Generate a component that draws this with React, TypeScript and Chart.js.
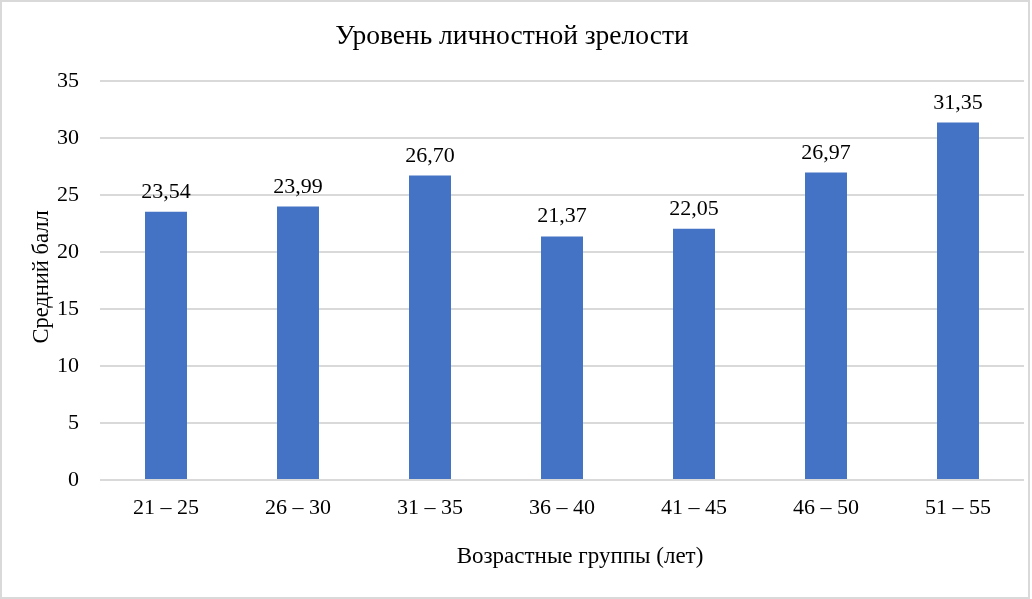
import React, { useEffect, useRef } from "react";
import { Chart, registerables } from "chart.js";

Chart.register(...registerables);

const categories = ["21 – 25", "26 – 30", "31 – 35", "36 – 40", "41 – 45", "46 – 50", "51 – 55"];
const values = [23.54, 23.99, 26.7, 21.37, 22.05, 26.97, 31.35];
const yMin = 0;
const yMax = 35;
const yStep = 5;
const chartTitle = "Уровень личностной зрелости";
const xTitle = "Возрастные группы (лет)";
const yTitle = "Средний балл";

const FONT = '"Liberation Serif", "Times New Roman", serif';
const BAR_COLOR = "#4472C4";
const GRID_COLOR = "#d9d9d9";
const TEXT_COLOR = "#000000";

const formatValue = (v: number) => v.toFixed(2).replace(".", ",");

const dataLabelsPlugin = {
  id: "dataLabels",
  afterDatasetsDraw(chart: any) {
    const ctx = chart.ctx;
    const meta = chart.getDatasetMeta(0);
    ctx.save();
    ctx.font = `22px ${FONT}`;
    ctx.fillStyle = TEXT_COLOR;
    ctx.textAlign = "center";
    ctx.textBaseline = "alphabetic";
    meta.data.forEach((bar: any, i: number) => {
      ctx.fillText(formatValue(values[i]), bar.x, bar.y - 14);
    });
    ctx.restore();
  },
};

const axisTitlesPlugin = {
  id: "axisTitles",
  afterDraw(chart: any) {
    const ctx = chart.ctx;
    ctx.save();
    ctx.fillStyle = TEXT_COLOR;
    ctx.textAlign = "center";
    ctx.textBaseline = "middle";
    ctx.font = `23px ${FONT}`;
    ctx.fillText(xTitle, 580, 557);
    ctx.font = `22.5px ${FONT}`;
    ctx.translate(42, 277);
    ctx.rotate(-Math.PI / 2);
    ctx.fillText(yTitle, 0, 0);
    ctx.restore();
  },
};

export default function App() {
  const canvasRef = useRef<HTMLCanvasElement | null>(null);

  useEffect(() => {
    if (!canvasRef.current) return;
    const chart = new Chart(canvasRef.current, {
      type: "bar",
      data: {
        labels: categories,
        datasets: [
          {
            data: values,
            backgroundColor: BAR_COLOR,
            borderWidth: 0,
            categoryPercentage: 1,
            barPercentage: 0.318,
          },
        ],
      },
      options: {
        responsive: false,
        animation: false,
        layout: { padding: { left: 0, right: 8, top: 0, bottom: 0 } },
        plugins: {
          legend: { display: false },
          tooltip: { enabled: false },
          title: {
            display: true,
            text: chartTitle,
            color: TEXT_COLOR,
            font: { family: FONT, size: 27.5, weight: "normal" },
            padding: { top: 20, bottom: 28 },
          },
        },
        scales: {
          x: {
            grid: { display: false, drawTicks: false },
            border: { display: false },
            ticks: {
              color: TEXT_COLOR,
              font: { family: FONT, size: 22 },
              padding: 15,
              maxRotation: 0,
              autoSkip: false,
            },
            afterFit(scale: any) {
              scale.height = 119;
            },
          },
          y: {
            min: yMin,
            max: yMax,
            grid: { color: GRID_COLOR, lineWidth: 2, drawTicks: false },
            border: { display: false },
            ticks: {
              stepSize: yStep,
              color: TEXT_COLOR,
              font: { family: FONT, size: 22 },
              padding: 21,
            },
            afterFit(scale: any) {
              scale.width = 100;
            },
          },
        },
      },
      plugins: [dataLabelsPlugin, axisTitlesPlugin],
    });
    return () => chart.destroy();
  }, []);

  return (
    <div style={{ position: "absolute", left: 0, top: 0, width: 1032, height: 599, background: "#fff" }}>
      <canvas ref={canvasRef} width={1032} height={599} style={{ display: "block" }} />
      <div
        style={{
          position: "absolute",
          left: 0,
          top: 0,
          width: 1030,
          height: 599,
          boxSizing: "border-box",
          border: `2px solid ${GRID_COLOR}`,
          pointerEvents: "none",
        }}
      />
    </div>
  );
}
